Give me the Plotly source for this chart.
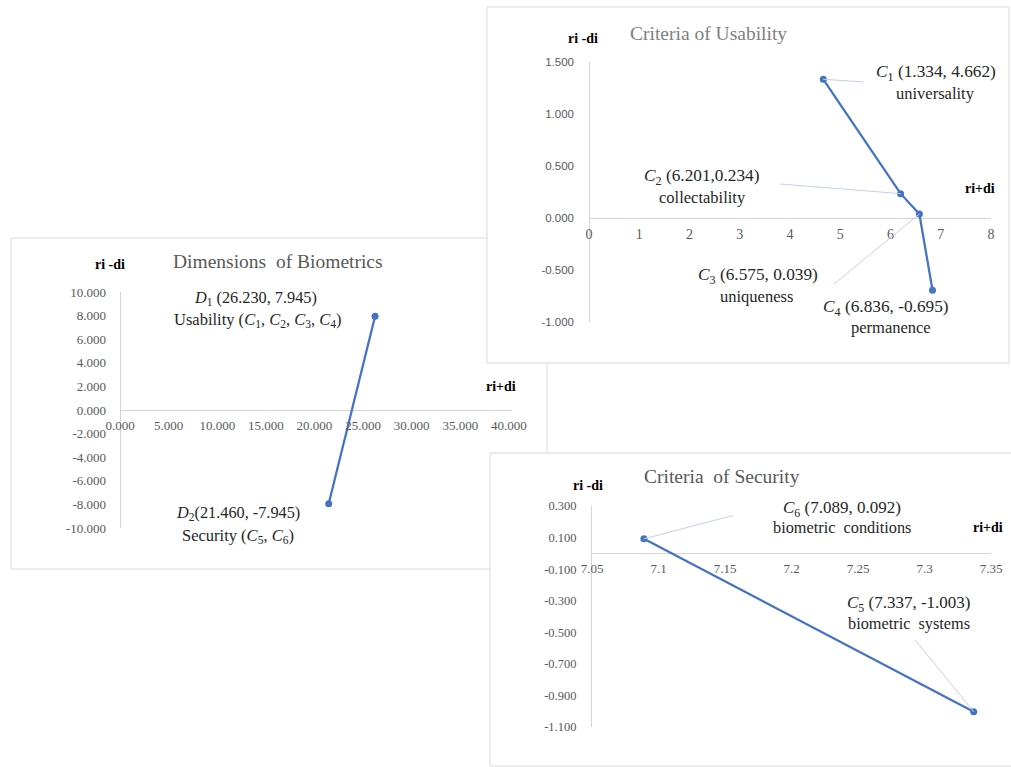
import plotly.graph_objects as go

W, H = 1011, 767

# ---------------- data ----------------
dim_labels = ["<i>D</i><sub>1</sub> (26.230, 7.945)", "<i>D</i><sub>2</sub>(21.460, -7.945)"]
dim_sub = ["Usability (<i>C</i><sub>1</sub>, <i>C</i><sub>2</sub>, <i>C</i><sub>3</sub>, <i>C</i><sub>4</sub>)",
           "Security (<i>C</i><sub>5</sub>, <i>C</i><sub>6</sub>)"]
dim_x = [26.230, 21.460]
dim_y = [7.945, -7.945]

usa_labels = ["<i>C</i><sub>1</sub> (1.334, 4.662)", "<i>C</i><sub>2</sub> (6.201,0.234)",
              "<i>C</i><sub>3</sub> (6.575, 0.039)", "<i>C</i><sub>4</sub> (6.836, -0.695)"]
usa_sub = ["universality", "collectability", "uniqueness", "permanence"]
usa_x = [4.662, 6.201, 6.575, 6.836]
usa_y = [1.334, 0.234, 0.039, -0.695]

sec_labels = ["<i>C</i><sub>6</sub> (7.089, 0.092)", "<i>C</i><sub>5</sub> (7.337, -1.003)"]
sec_sub = ["biometric  conditions", "biometric  systems"]
sec_x = [7.089, 7.337]
sec_y = [0.092, -1.003]

dim_xticks = [0, 5, 10, 15, 20, 25, 30, 35, 40]
dim_yticks = [-10, -8, -6, -4, -2, 0, 2, 4, 6, 8, 10]
usa_xticks = [0, 1, 2, 3, 4, 5, 6, 7, 8]
usa_yticks = [-1.0, -0.5, 0.0, 0.5, 1.0, 1.5]
sec_xticks = [7.05, 7.1, 7.15, 7.2, 7.25, 7.3, 7.35]
sec_xtext = ["7.05", "7.1", "7.15", "7.2", "7.25", "7.3", "7.35"]
sec_yticks = [-1.1, -0.9, -0.7, -0.5, -0.3, -0.1, 0.1, 0.3]

# ---------------- layout helpers ----------------
def px(p):
    return p / W

def py(p):
    return 1 - p / H

def ydom(top, bottom):
    return [py(bottom), py(top)]

def zero_pos(dom, rng):
    return dom[0] + (0 - rng[0]) / (rng[1] - rng[0]) * (dom[1] - dom[0])

BLUE = "#4472C4"
GRID = "#d4d4d4"
TICK = "#595959"
SERIF = "Liberation Serif"
SANS = "Liberation Sans"

fig = go.Figure()

for xs, ys, xa, ya in [(dim_x, dim_y, "x", "y"), (usa_x, usa_y, "x2", "y2"), (sec_x, sec_y, "x3", "y3")]:
    fig.add_trace(go.Scatter(x=xs, y=ys, xaxis=xa, yaxis=ya, mode="lines+markers",
                             line=dict(color=BLUE, width=2.25),
                             marker=dict(color=BLUE, size=7),
                             cliponaxis=False, showlegend=False, hoverinfo="x+y"))

# axes
x1_dom = [px(120), px(512)]; x1_rng = [0, 40.31]
y1_dom = ydom(292, 528); y1_rng = [-10, 10]
x2_dom = [px(589), px(991)]; x2_rng = [0, 8]
y2_dom = ydom(62, 322); y2_rng = [-1, 1.5]
x3_dom = [px(592), px(991)]; x3_rng = [7.05, 7.35]
y3_dom = ydom(506, 727); y3_rng = [-1.1, 0.3]

def xax(dom, rng, pos, vals, text, font, size, standoff):
    return dict(domain=dom, range=rng, anchor="free", position=pos, showgrid=False,
                zeroline=True, zerolinecolor=GRID, zerolinewidth=1, showline=False,
                ticks="", tickmode="array", tickvals=vals, ticktext=text,
                tickfont=dict(family=font, size=size, color=TICK), ticklabelstandoff=standoff,
                fixedrange=True)

def yax(dom, rng, anchor, vals, text, font, size, standoff):
    return dict(domain=dom, range=rng, anchor=anchor, showgrid=False,
                zeroline=True, zerolinecolor=GRID, zerolinewidth=1, showline=False,
                ticks="", tickmode="array", tickvals=vals, ticktext=text,
                tickfont=dict(family=font, size=size, color=TICK), ticklabelstandoff=standoff,
                fixedrange=True)

fig.update_layout(
    xaxis=xax(x1_dom, x1_rng, zero_pos(y1_dom, y1_rng), dim_xticks, [f"{v:.3f}" for v in dim_xticks], SERIF, 13, 6),
    yaxis=yax(y1_dom, y1_rng, "x", dim_yticks, [f"{v:.3f}" for v in dim_yticks], SERIF, 13, 13),
    xaxis2=xax(x2_dom, x2_rng, zero_pos(y2_dom, y2_rng), usa_xticks, [str(v) for v in usa_xticks], SERIF, 14, 6),
    yaxis2=yax(y2_dom, y2_rng, "x2", usa_yticks, [f"{v:.3f}" for v in usa_yticks], SANS, 11.5, 14),
    xaxis3=xax(x3_dom, x3_rng, zero_pos(y3_dom, y3_rng), sec_xticks, sec_xtext, SERIF, 13, 6),
    yaxis3=yax(y3_dom, y3_rng, "x3", sec_yticks, [f"{v:.3f}" for v in sec_yticks], SERIF, 12.5, 12),
)
fig.layout.yaxis3.showline = True
fig.layout.yaxis3.linecolor = GRID
fig.layout.yaxis3.linewidth = 1

# panel frames
shapes = []
for (x0, y0, x1, y1) in [(11, 238, 547, 569), (487, 7, 1009, 363), (490, 453, 1014, 766)]:
    shapes.append(dict(type="rect", xref="paper", yref="paper", x0=px(x0), x1=px(x1), y0=py(y1), y1=py(y0),
                       fillcolor="white", line=dict(color="#d9d9d9", width=1), layer="below"))

# leader lines (label side end in data units)
LEAD = "#c3d1e6"
usa_lead = {0: (5.473, 1.308), 1: (3.80, 0.327), 2: (4.876, -0.635)}
for i, (lx, ly) in usa_lead.items():
    shapes.append(dict(type="line", xref="x2", yref="y2", x0=usa_x[i], y0=usa_y[i], x1=lx, y1=ly,
                       line=dict(color=LEAD, width=1), layer="above"))
sec_lead = {0: (7.156, 0.24), 1: (7.293, -0.549)}
for i, (lx, ly) in sec_lead.items():
    shapes.append(dict(type="line", xref="x3", yref="y3", x0=sec_x[i], y0=sec_y[i], x1=lx, y1=ly,
                       line=dict(color=LEAD, width=1), layer="above"))

annotations = []

def ann_paper(text, x, y, size, color="black", bold=False, family=SERIF):
    if bold:
        text = f"<b>{text}</b>"
    annotations.append(dict(text=text, xref="paper", yref="paper", x=px(x), y=py(y), showarrow=False,
                            xanchor="center", yanchor="middle", font=dict(family=family, size=size, color=color)))

def ann_data(text, xr, yr, x, y, size, dx=0, dy=0, color="#262626"):
    annotations.append(dict(text=text, xref=xr, yref=yr, x=x, y=y, showarrow=False,
                            xshift=dx, yshift=dy,
                            xanchor="center", yanchor="middle", font=dict(family=SERIF, size=size, color=color)))

# titles
ann_paper("Dimensions  of Biometrics", 278, 262, 19.5, TICK)
ann_paper("Criteria of Usability", 708, 33, 19.5, "#808080")
ann_paper("Criteria  of Security", 722, 476, 19.5, TICK)

# axis names
for (x, y) in [(110, 265), (583, 39), (588, 485)]:
    ann_paper("ri -di", x, y, 14, bold=True)
for (x, y) in [(501, 386), (980, 189), (988, 527)]:
    ann_paper("ri+di", x, y, 14, bold=True)

# point labels: data-space position of first line, pixel offset of second line
dim_lab_pos = [(13.98, 9.49, 2, -22), (12.13, -8.73, 0, -23)]
for i, (a, b, dx, dy) in enumerate(dim_lab_pos):
    ann_data(dim_labels[i], "x", "y", a, b, 16.3)
    ann_data(dim_sub[i], "x", "y", a, b, 16.5, dx, dy)

usa_lab_pos = [(6.905, 1.394, 0, -20), (2.249, 0.394, 0, -20),
               (3.363, -0.558, -1, -20), (5.91, -0.865, 5, -20)]
for i, (a, b, dx, dy) in enumerate(usa_lab_pos):
    ann_data(usa_labels[i], "x2", "y2", a, b, 17.3)
    ann_data(usa_sub[i], "x2", "y2", a, b, 16.5, dx, dy)

sec_lab_pos = [(7.238, 0.284, 0, -19), (7.288, -0.322, 0, -19)]
for i, (a, b, dx, dy) in enumerate(sec_lab_pos):
    ann_data(sec_labels[i], "x3", "y3", a, b, 17)
    ann_data(sec_sub[i], "x3", "y3", a, b, 16.3, dx, dy)

fig.update_layout(width=W, height=H, margin=dict(l=0, r=0, t=0, b=0, autoexpand=False),
                  paper_bgcolor="white", plot_bgcolor="rgba(0,0,0,0)",
                  shapes=shapes, annotations=annotations, showlegend=False)

fig.write_html("out.html", config={"displayModeBar": False},
               post_script="document.body.style.margin='0';document.body.style.overflow='hidden';")
